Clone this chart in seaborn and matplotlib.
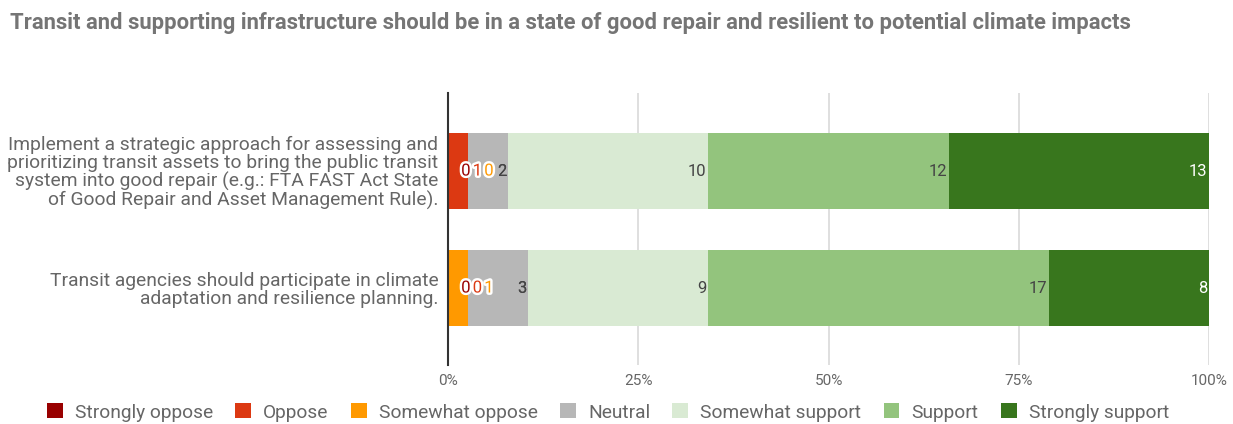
import numpy as np
import pandas as pd
import matplotlib
matplotlib.use("Agg")
import matplotlib.pyplot as plt
import matplotlib.patheffects as pe
from matplotlib.patches import Patch
import seaborn as sns

# Survey statements and response counts
statements = [
    "Implement a strategic approach for assessing and\nprioritizing transit assets to bring the public transit\nsystem into good repair (e.g.: FTA FAST Act State\nof Good Repair and Asset Management Rule).",
    "Transit agencies should participate in climate\nadaptation and resilience planning.",
]
responses = ["Strongly oppose", "Oppose", "Somewhat oppose", "Neutral",
             "Somewhat support", "Support", "Strongly support"]
strongly_oppose = [0, 0]
oppose = [1, 0]
somewhat_oppose = [0, 1]
neutral = [2, 3]
somewhat_support = [10, 9]
support = [12, 17]
strongly_support = [13, 8]

palette = ["#990000", "#dc3912", "#ff9900", "#b7b7b7", "#d9ead3", "#93c47d", "#38761d"]
label_colors = ["#444444", "#444444", "#444444", "#444444", "#444444", "#444444", "#ffffff"]

counts = np.array([strongly_oppose, oppose, somewhat_oppose, neutral,
                   somewhat_support, support, strongly_support], dtype=float)
pct = counts / counts.sum(axis=0) * 100
cum = np.cumsum(pct, axis=0)

sns.set_theme(style="white")
plt.rcParams["font.family"] = ["Roboto", "DejaVu Sans"]

fig = plt.figure(figsize=(12.33, 4.24), dpi=100)
ax = fig.add_axes([448 / 1233, 1 - 365 / 424, (1209 - 448) / 1233, (365 - 93) / 424])

# Stacked bars: draw cumulative totals from the outermost segment inward
for i in range(len(responses) - 1, -1, -1):
    df = pd.DataFrame({"statement": statements, "value": cum[i]})
    sns.barplot(data=df, x="value", y="statement", orient="h", color=palette[i],
                saturation=1, width=0.65, ax=ax, zorder=2, linewidth=0)

ax.set_xlim(0, 100)
ax.set_ylim(1.658, -0.667)
ax.set_xticks([0, 25, 50, 75, 100])
ax.set_xticklabels(["0%", "25%", "50%", "75%", "100%"], fontsize=11, color="#666666")
ax.tick_params(axis="x", length=0, pad=6.5)
ax.tick_params(axis="y", length=0, pad=7)
ax.set_yticks([0, 1])
ax.set_yticklabels(statements, fontsize=13.85, color="#666666", linespacing=1.0)
ax.set_xlabel("")
ax.set_ylabel("")
for x in [25, 50, 75, 100]:
    ax.axvline(x, color="#d9d9d9", lw=1.2, zorder=1)
for s in ["top", "right", "bottom"]:
    ax.spines[s].set_visible(False)
ax.spines["left"].set_color("#333333")
ax.spines["left"].set_linewidth(1.5)
ax.spines["left"].set_zorder(5)

# Value labels at the end of each segment
halo = [pe.withStroke(linewidth=3.5, foreground="white")]
for r in range(len(statements)):
    small = []
    for i in range(len(responses)):
        if pct[i, r] < 5:
            small.append(i)
            continue
        ax.annotate(f"{int(counts[i, r])}", xy=(cum[i, r], r), xytext=(-1.2, 0),
                    textcoords="offset points", ha="right", va="center",
                    fontsize=12, color=label_colors[i], zorder=6)
    # narrow segments get their labels in a row next to the axis
    for k, i in enumerate(small):
        ax.annotate(f"{int(counts[i, r])}", xy=(0, r), xytext=(9.5 + 8.3 * k, 0),
                    textcoords="offset points", ha="left", va="center",
                    fontsize=12, color=palette[i], path_effects=halo, zorder=6)
    # neutral label sits against its segment edge
    i = 3
    ax.annotate(f"{int(counts[i, r])}", xy=(cum[i, r], r), xytext=(-1.2, 0),
                textcoords="offset points", ha="right", va="center",
                fontsize=12, color="#444444", zorder=6)

fig.text(10 / 1233, 1 - 23 / 424,
         "Transit and supporting infrastructure should be in a state of good repair and resilient to potential climate impacts",
         fontsize=15.85, fontweight="bold", color="#757575", ha="left", va="center")

handles = [Patch(facecolor=c, edgecolor="none") for c in palette]
fig.legend(handles, responses, loc="center", bbox_to_anchor=(608 / 1233, 1 - 412.5 / 424),
           ncol=7, frameon=False, fontsize=13.8, labelcolor="#666666",
           handlelength=0.83, handleheight=0.83, handletextpad=0.63, columnspacing=1.16)

fig.savefig("out.png", dpi=100)
